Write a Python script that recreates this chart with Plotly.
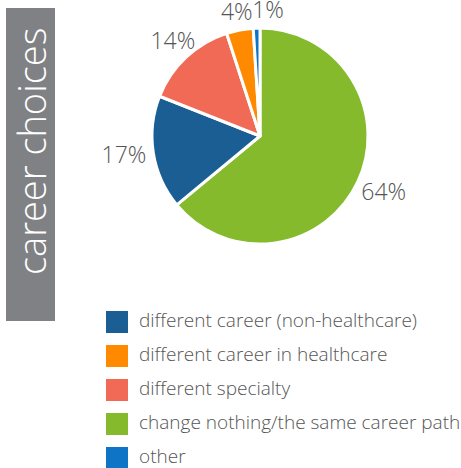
import math
import plotly.graph_objects as go

# Pie data (clockwise order from 12 o'clock)
pie_labels = ["change nothing/the same career path", "different career (non-healthcare)",
              "different specialty", "different career in healthcare", "other"]
pie_values = [64, 17, 14, 4, 1]
pie_colors = ["#84BA2B", "#1B5E93", "#F06A55", "#FF8A00", "#0D74C6"]

# Legend order
legend_labels = ["different career (non-healthcare)", "different career in healthcare",
                 "different specialty", "change nothing/the same career path", "other"]
legend_colors = ["#1B5E93", "#FF8A00", "#F06A55", "#84BA2B", "#0D74C6"]

title_text = "career choices"

W, H = 461, 468
FONT = "Open Sans"
TXT = "#555555"
PCX, PCY, PR = 260, 136, 108   # pie centre / radius in pixel units
LBL_SIZE = 23
PAD = 6

fig = go.Figure()

fig.add_trace(go.Pie(
    labels=pie_labels, values=pie_values, sort=False, direction="clockwise", rotation=0,
    marker=dict(colors=pie_colors, line=dict(color="white", width=3)),
    textinfo="none",
    domain=dict(x=[(PCX - PR) / W, (PCX + PR) / W], y=[1 - (PCY + PR) / H, 1 - (PCY - PR) / H]),
    showlegend=False, hoverinfo="label+percent",
))

# outside percentage labels, placed just beyond each slice's mid-angle
total = sum(pie_values)
lx, ly, lt = [], [], []
acc = 0
prev = None
for v in pie_values:
    mid = (acc + v / 2) / total * 2 * math.pi
    acc += v
    txt = f"{round(v / total * 100)}%"
    hw = 0.34 * LBL_SIZE * len(txt)      # approx half text width
    hh = 0.42 * LBL_SIZE                 # approx half text height
    s, c = abs(math.sin(mid)), abs(math.cos(mid))
    edge = min(hw / s if s > 1e-6 else 1e9, hh / c if c > 1e-6 else 1e9)
    r = PR + PAD + edge
    x = PCX + r * math.sin(mid)
    y = PCY - r * math.cos(mid)
    if prev is not None and abs(prev[1] - y) < 2 * hh and abs(prev[0] - x) < prev[2] + hw:
        x = prev[0] + prev[2] + hw
    prev = (x, y, hw)
    lx.append(x); ly.append(y); lt.append(txt)

fig.add_trace(go.Scatter(
    x=lx, y=ly, mode="text", text=lt, textposition="middle center",
    textfont=dict(family=FONT, size=LBL_SIZE, color=TXT, weight=300),
    showlegend=False, hoverinfo="skip",
))

# legend built on a hidden pixel-unit axis
ys = [322 + 34 * i for i in range(len(legend_labels))]
fig.add_trace(go.Scatter(
    x=[117] * len(legend_labels), y=ys, mode="markers",
    marker=dict(symbol="square", size=22, color=legend_colors, line=dict(width=0)),
    showlegend=False, hoverinfo="skip",
))
fig.add_trace(go.Scatter(
    x=[139] * len(legend_labels), y=ys, mode="text", text=legend_labels,
    textposition="middle right", textfont=dict(family=FONT, size=19, color=TXT, weight=300),
    showlegend=False, hoverinfo="skip",
))

fig.add_shape(type="rect", xref="x", yref="y", x0=6, x1=55, y0=8, y1=321,
              fillcolor="#808184", line=dict(width=0), layer="below")
fig.add_annotation(xref="x", yref="y", x=31, y=152, text=title_text, textangle=-90,
                   showarrow=False, font=dict(family=FONT, size=38, color="white", weight=300))

fig.update_layout(
    width=W, height=H, margin=dict(l=0, r=0, t=0, b=0, autoexpand=False),
    paper_bgcolor="white", plot_bgcolor="rgba(0,0,0,0)",
    xaxis=dict(range=[0, W], visible=False, domain=[0, 1], fixedrange=True),
    yaxis=dict(range=[H, 0], visible=False, domain=[0, 1], fixedrange=True),
)

fig.write_html("out.html", config={"displayModeBar": False},
               post_script="document.body.style.margin='0px';")
